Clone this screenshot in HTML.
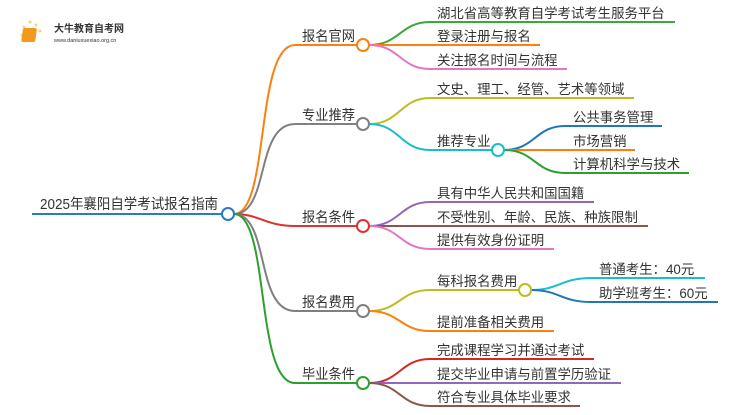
<!DOCTYPE html>
<html><head><meta charset="utf-8"><style>
body{margin:0;background:#fff}
svg text{font-family:"Liberation Sans","Noto Sans CJK SC",sans-serif;fill:#333}
</style></head><body>
<svg width="750" height="410" viewBox="0 0 750 410" xmlns="http://www.w3.org/2000/svg">
<g fill="none" stroke-width="2">
<path d="M32 214H222" stroke="#2a7bc4"/>
<path d="M234 214C270 214 255 45 295 45H357" stroke="#ff7f0e"/>
<path d="M234 214C270 214 255 124 295 124H357" stroke="#808080"/>
<path d="M234 214C260 214 265 226 295 226H357" stroke="#e03030"/>
<path d="M234 214C270 214 255 311 295 311H357" stroke="#808080"/>
<path d="M234 214C270 214 255 383 295 383H357" stroke="#2ca02c"/>
<path d="M369 45C400 45 400 22 430 22H675" stroke="#3aaa35"/>
<path d="M369 45H540" stroke="#ff7f0e"/>
<path d="M369 45C400 45 400 69 430 69H567" stroke="#e377c2"/>
<path d="M369 124C400 124 400 98 430 98H634" stroke="#bcbd22"/>
<path d="M369 124C400 124 400 150 430 150H492" stroke="#17becf"/>
<path d="M504 150C535 150 535 126 565 126H662" stroke="#1f77b4"/>
<path d="M504 150H635" stroke="#ff7f0e"/>
<path d="M504 150C535 150 535 173 565 173H689" stroke="#2ca02c"/>
<path d="M369 226C400 226 400 202 430 202H594" stroke="#9467bd"/>
<path d="M369 226H648" stroke="#8c564b"/>
<path d="M369 226C400 226 400 249 430 249H554" stroke="#e377c2"/>
<path d="M369 311C400 311 400 290 430 290H519" stroke="#bcbd22"/>
<path d="M369 311C400 311 400 331 430 331H554" stroke="#ff7f0e"/>
<path d="M531 290C560 290 560 278 592 278H705" stroke="#17becf"/>
<path d="M531 290C560 290 560 302 592 302H718" stroke="#1f77b4"/>
<path d="M369 383C400 383 400 359 430 359H594" stroke="#d62728"/>
<path d="M369 383H621" stroke="#9467bd"/>
<path d="M369 383C400 383 400 406 430 406H580" stroke="#8c564b"/>
</g>
<g fill="#fff" stroke-width="2">
<circle cx="228" cy="214" r="6" stroke="#2a7bc4"/>
<circle cx="363" cy="45" r="6" stroke="#ff7f0e"/>
<circle cx="363" cy="124" r="6" stroke="#808080"/>
<circle cx="363" cy="226" r="6" stroke="#e03030"/>
<circle cx="363" cy="311" r="6" stroke="#808080"/>
<circle cx="363" cy="383" r="6" stroke="#2ca02c"/>
<circle cx="498" cy="150" r="6" stroke="#17becf"/>
<circle cx="525" cy="290" r="6" stroke="#bcbd22"/>
</g>
<text x="40" y="209" font-size="14.5" textLength="178" lengthAdjust="spacingAndGlyphs">2025年襄阳自学考试报名指南</text>
<g font-size="14" fill="#444">
<text x="302" y="41" textLength="53" lengthAdjust="spacingAndGlyphs">报名官网</text>
<text x="302" y="120" textLength="53" lengthAdjust="spacingAndGlyphs">专业推荐</text>
<text x="302" y="222" textLength="53" lengthAdjust="spacingAndGlyphs">报名条件</text>
<text x="302" y="307" textLength="53" lengthAdjust="spacingAndGlyphs">报名费用</text>
<text x="302" y="379" textLength="53" lengthAdjust="spacingAndGlyphs">毕业条件</text>
</g>
<g font-size="13.4">
<text x="437" y="18">湖北省高等教育自学考试考生服务平台</text>
<text x="437" y="41">登录注册与报名</text>
<text x="437" y="65">关注报名时间与流程</text>
<text x="437" y="94">文史、理工、经管、艺术等领域</text>
<text x="437" y="146">推荐专业</text>
<text x="573" y="122">公共事务管理</text>
<text x="573" y="146">市场营销</text>
<text x="573" y="169">计算机科学与技术</text>
<text x="437" y="198">具有中华人民共和国国籍</text>
<text x="437" y="222">不受性别、年龄、民族、种族限制</text>
<text x="437" y="245">提供有效身份证明</text>
<text x="437" y="286">每科报名费用</text>
<text x="599" y="274">普通考生：40元</text>
<text x="599" y="298">助学班考生：60元</text>
<text x="437" y="327">提前准备相关费用</text>
<text x="437" y="355">完成课程学习并通过考试</text>
<text x="437" y="379">提交毕业申请与前置学历验证</text>
<text x="437" y="402">符合专业具体毕业要求</text>
</g>
<g>
<circle cx="30" cy="22" r="1.5" fill="#fcd27a"/><circle cx="36" cy="25" r="1.5" fill="#fcd27a"/><circle cx="24" cy="27" r="1.5" fill="#fcd27a"/><circle cx="40" cy="31" r="1.5" fill="#fcd27a"/><circle cx="22" cy="35" r="1.5" fill="#fcd27a"/>
<rect x="27" y="28" width="14" height="14" rx="2" fill="#f39a1e" transform="skewX(-8)"/>
<text x="54" y="32" font-size="10" fill="#333" font-weight="bold">大牛教育自考网</text>
<text x="54" y="42" font-size="5.5" fill="#777">www.daniuxuexiao.org.cn</text>
</g>
</svg>
</body></html>
